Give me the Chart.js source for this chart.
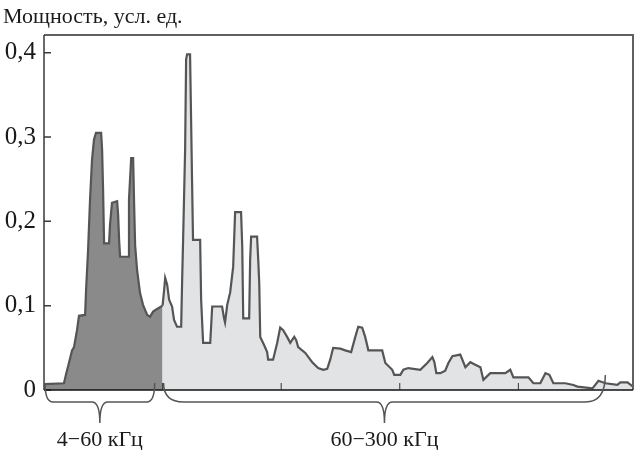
<!DOCTYPE html>
<html>
<head>
<meta charset="utf-8">
<script src="https://cdn.jsdelivr.net/npm/chart.js@4"></script>
<style>
  html, body { margin: 0; padding: 0; background: #fff; }
</style>
</head>
<body>
<canvas id="spectrum" width="635" height="450"></canvas>
<script>
// spectrum of the signal, power in arbitrary units vs frequency (kHz)
const yTitle = 'Мощность, усл. ед.';
const bandLabels = ['4−60 кГц', '60−300 кГц'];
const bandBraces = [[0, 56], [60, 284]];   // kHz, start/end of each brace
const yTicks = [0, 0.1, 0.2, 0.3, 0.4];
const xTicks = [60, 120, 180, 240];

// 4–60 kHz band
const lowFreq  = [0, 10.1, 11.1, 12.7, 14.2, 15.2, 16.7, 17.7, 20.8, 21.3, 22.3, 23.3, 24.3, 25.3, 26.3,
                  28.9, 29.4, 29.9, 30.4, 32.9, 33.4, 34.4, 37.0, 37.5, 38.0, 38.5, 42.5, 43.0, 44.1,
                  45.1, 45.6, 46.1, 47.1, 48.6, 50.1, 52.2, 53.7, 55.2, 57.2, 60];
const lowPower = [0.007, 0.008, 0.018, 0.033, 0.047, 0.051, 0.071, 0.088, 0.089, 0.119, 0.166, 0.226, 0.273, 0.297, 0.305,
                  0.305, 0.285, 0.237, 0.174, 0.174, 0.196, 0.222, 0.224, 0.208, 0.178, 0.158, 0.158, 0.226, 0.275,
                  0.275, 0.220, 0.172, 0.142, 0.115, 0.101, 0.089, 0.087, 0.093, 0.096, 0.100];

// 60–300 kHz band
const highFreq  = [60, 60.8, 61.3, 62.3, 63.3, 64.8, 65.8, 67.3, 69.4, 69.9, 70.4, 71.4, 71.9, 72.4, 73.9,
                   74.4, 74.9, 75.4, 79.0, 79.5, 80.5, 84.1, 85.1, 90.1, 91.1, 91.6, 92.7, 94.2, 95.7,
                   96.7, 99.7, 100.3, 100.8, 103.8, 104.3, 104.8, 107.8, 108.4, 108.9, 109.4, 111.4, 112.9,
                   113.4, 115.9, 118.0, 119.5, 121.0, 123.0, 124.6, 126.6, 127.6, 128.6, 132.2, 135.7, 138.7,
                   141.3, 143.3, 144.8, 146.3, 149.9, 152.4, 155.4, 157.5, 159.0, 161.0, 162.5, 164.1, 171.1,
                   172.7, 176.2, 177.2, 180.3, 181.8, 184.3, 190.4, 193.9, 196.5, 197.5, 198.5, 200.5, 203.0,
                   204.6, 206.6, 210.6, 213.2, 215.7, 218.2, 220.8, 222.3, 225.8, 233.4, 235.9, 237.5, 245.1,
                   247.6, 251.1, 253.7, 255.7, 257.7, 263.8, 267.8, 269.9, 277.5, 280.5, 284.1, 290.1, 291.6,
                   295.2, 298];
const highPower = [0.100, 0.119, 0.133, 0.125, 0.107, 0.099, 0.083, 0.075, 0.075, 0.131, 0.180, 0.285, 0.392, 0.398, 0.398,
                   0.324, 0.249, 0.178, 0.178, 0.107, 0.056, 0.056, 0.099, 0.099, 0.085, 0.080, 0.101, 0.116, 0.146,
                   0.211, 0.211, 0.170, 0.085, 0.085, 0.154, 0.182, 0.182, 0.154, 0.127, 0.063, 0.053, 0.045,
                   0.036, 0.036, 0.056, 0.074, 0.071, 0.063, 0.056, 0.063, 0.059, 0.051, 0.044, 0.033, 0.026,
                   0.024, 0.025, 0.036, 0.050, 0.049, 0.047, 0.045, 0.063, 0.075, 0.074, 0.063, 0.047, 0.047,
                   0.032, 0.024, 0.018, 0.018, 0.024, 0.026, 0.024, 0.032, 0.039, 0.033, 0.020, 0.020, 0.023,
                   0.032, 0.040, 0.042, 0.027, 0.033, 0.030, 0.027, 0.012, 0.020, 0.020, 0.024, 0.015, 0.015,
                   0.008, 0.008, 0.020, 0.018, 0.008, 0.008, 0.006, 0.004, 0.002, 0.011, 0.008, 0.006, 0.009,
                   0.009, 0.004];

const SERIF = '"Liberation Serif", "DejaVu Serif", serif';
const LINE = '#555555';

const toPoints = (xs, ys) => xs.map((x, i) => ({ x, y: ys[i] }));

// frame, inward ticks, braces and texts
const decor = {
  id: 'decor',
  afterDraw(chart) {
    const { ctx, chartArea: a, scales: { x, y } } = chart;
    ctx.save();

    // top + right border
    ctx.strokeStyle = '#606060';
    ctx.lineWidth = 2;
    ctx.beginPath();
    ctx.moveTo(a.left, a.top);
    ctx.lineTo(a.right, a.top);
    ctx.lineTo(a.right, a.bottom);
    ctx.stroke();

    // y axis
    ctx.strokeStyle = '#3a3a3a';
    ctx.lineWidth = 1.5;
    ctx.beginPath();
    ctx.moveTo(a.left, a.top);
    ctx.lineTo(a.left, a.bottom);
    yTicks.forEach(v => {
      const py = y.getPixelForValue(v);
      ctx.moveTo(a.left, py);
      ctx.lineTo(a.left + 7, py);
    });
    ctx.stroke();

    // x axis
    ctx.strokeStyle = '#111';
    ctx.beginPath();
    ctx.moveTo(a.left, a.bottom);
    ctx.lineTo(a.right, a.bottom);
    ctx.stroke();
    ctx.lineWidth = 1;
    ctx.strokeStyle = '#333';
    ctx.beginPath();
    xTicks.forEach(v => {
      const px = x.getPixelForValue(v);
      ctx.moveTo(px, a.bottom);
      ctx.lineTo(px, a.bottom - 7);
    });
    ctx.stroke();

    // braces under the axis
    const radii = [8, 20];
    ctx.strokeStyle = '#555';
    ctx.lineWidth = 1.5;
    bandBraces.forEach(([f0, f1], i) => {
      const x0 = x.getPixelForValue(f0) + 1, x1 = x.getPixelForValue(f1);
      const xm = (x0 + x1) / 2;
      const yTop = a.bottom - 7, yMid = a.bottom + 12, yTip = a.bottom + 33;
      const r = radii[i];
      ctx.beginPath();
      ctx.moveTo(x0, yTop);
      ctx.quadraticCurveTo(x0, yMid, x0 + r, yMid);
      ctx.lineTo(xm - 8, yMid);
      ctx.quadraticCurveTo(xm, yMid, xm, yTip);
      ctx.quadraticCurveTo(xm, yMid, xm + 8, yMid);
      ctx.lineTo(x1 - r, yMid);
      ctx.quadraticCurveTo(x1, yMid, x1, yTop - (i ? 8 : 0));
      ctx.stroke();

      ctx.fillStyle = '#1a1a1a';
      ctx.font = '22px ' + SERIF;
      ctx.textAlign = 'center';
      ctx.textBaseline = 'alphabetic';
      ctx.fillText(bandLabels[i], xm, a.bottom + 56);
    });

    // axis title
    ctx.fillStyle = '#1a1a1a';
    ctx.font = '22px ' + SERIF;
    ctx.textAlign = 'left';
    ctx.fillText(yTitle, 3, 23);
    ctx.restore();
  }
};

new Chart(document.getElementById('spectrum'), {
  type: 'line',
  data: {
    datasets: [
      {
        data: toPoints(lowFreq, lowPower),
        borderColor: LINE,
        backgroundColor: '#8a8a8a',
        borderWidth: 2.2,
        fill: 'origin',
        pointRadius: 0,
        tension: 0,
      },
      {
        data: toPoints(highFreq, highPower),
        borderColor: LINE,
        backgroundColor: '#e1e3e5',
        borderWidth: 2.2,
        fill: 'origin',
        pointRadius: 0,
        tension: 0,
      }
    ]
  },
  options: {
    responsive: false,
    animation: false,
    layout: { padding: { top: 35, right: 2, left: 0, bottom: 0 } },
    plugins: { legend: { display: false }, tooltip: { enabled: false } },
    scales: {
      x: {
        type: 'linear',
        min: 0,
        max: 298,
        grid: { display: false },
        border: { display: false },
        ticks: { display: false },
        afterFit: s => { s.height = 60; }
      },
      y: {
        min: 0,
        max: 0.421,
        grid: { display: false, drawTicks: false },
        border: { display: false },
        afterBuildTicks: s => { s.ticks = yTicks.map(v => ({ value: v })); },
        ticks: {
          padding: 8,
          color: '#1a1a1a',
          font: { family: SERIF, size: 25 },
          callback: v => v === 0 ? '0' : v.toFixed(1).replace('.', ',')
        },
        afterFit: s => { s.width = 44; }
      }
    }
  },
  plugins: [decor]
});
</script>
</body>
</html>
